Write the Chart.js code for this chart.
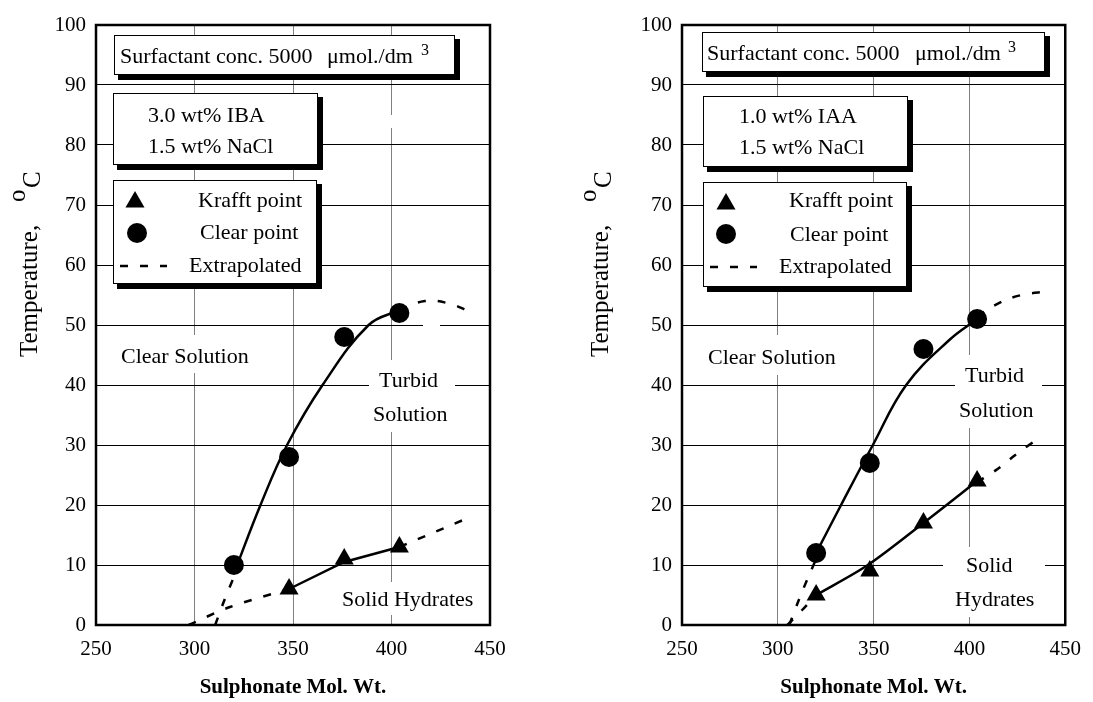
<!DOCTYPE html>
<html>
<head>
<meta charset="utf-8">
<script src="https://cdn.jsdelivr.net/npm/chart.js@4/dist/chart.umd.min.js"></script>
<style>
html,body{margin:0;padding:0;background:#fff;}
#wrap{position:relative;width:1093px;height:702px;background:#fff;}
canvas{position:absolute;top:0;}
</style>
</head>
<body>
<div id="wrap">
<canvas id="c1" width="546" height="702" style="left:0px"></canvas>
<canvas id="c2" width="547" height="702" style="left:546px"></canvas>
</div>
<script>
// ---------- shared axis data ----------
const xTickValues = [250, 300, 350, 400, 450];
const yTickValues = [0, 10, 20, 30, 40, 50, 60, 70, 80, 90, 100];
const xAxisTitle = 'Sulphonate Mol. Wt.';
const yAxisTitle = ['Temperature,', 'o', 'C'];
const concLabel = ['Surfactant conc. 5000', 'μmol./dm', '3'];
const legendLabels = ['Krafft point', 'Clear point', 'Extrapolated'];
const regionLabelsA = ['Clear Solution', 'Turbid', 'Solution', 'Solid Hydrates'];
const regionLabelsB = ['Clear Solution', 'Turbid', 'Solution', 'Solid', 'Hydrates'];

// ---------- Panel A: 3.0 wt% IBA ----------
const conditionsA = ['3.0 wt% IBA', '1.5 wt% NaCl'];
const ibaKrafftMW = [348, 376, 404];
const ibaKrafftT  = [6, 11, 13];
const ibaClearMW  = [320, 348, 376, 404];
const ibaClearT   = [10, 28, 48, 52];
const ibaClearCurveMW = [320.5, 333.5, 347, 365, 388.4, 404];
const ibaClearCurveT  = [9, 20, 30, 40, 50, 52.5];
const ibaKrafftCurveMW = [348, 376, 404];
const ibaKrafftCurveT  = [6, 10.5, 13];
const ibaClearExtLowMW = [310.5, 315, 320];
const ibaClearExtLowT  = [0, 4, 8];
const ibaClearExtHighMW = [404, 417, 429, 440];
const ibaClearExtHighT  = [52.5, 54, 53.6, 52.2];
const ibaKrafftExtLowMW = [297, 318, 348];
const ibaKrafftExtLowT  = [0, 3, 6];
const ibaKrafftExtHighMW = [404, 440];
const ibaKrafftExtHighT  = [13, 18];

// ---------- Panel B: 1.0 wt% IAA ----------
const conditionsB = ['1.0 wt% IAA', '1.5 wt% NaCl'];
const iaaKrafftMW = [320, 348, 376, 404];
const iaaKrafftT  = [5, 9, 17, 24];
const iaaClearMW  = [320, 348, 376, 404];
const iaaClearT   = [12, 27, 46, 51];
const iaaClearCurveMW = [320, 333, 349.6, 367, 389.5, 404];
const iaaClearCurveT  = [12, 20, 30, 40, 47.5, 51];
const iaaKrafftCurveMW = [320, 347, 376, 404];
const iaaKrafftCurveT  = [5, 10, 17, 24];
const iaaClearExtLowMW = [306, 311, 315.5, 320];
const iaaClearExtLowT  = [0, 4.2, 7.7, 11];
const iaaClearExtHighMW = [404, 416.4, 427.2, 441];
const iaaClearExtHighT  = [51.5, 53.8, 55, 55.6];
const iaaKrafftExtLowMW = [305, 312.7, 320];
const iaaKrafftExtLowT  = [0, 2.5, 5];
const iaaKrafftExtHighMW = [404, 414.7, 423.4, 435.5];
const iaaKrafftExtHighT  = [23.8, 26, 28.2, 31];

// ---------- layout (pixels, canvas-local) ----------
const FONT = '"Liberation Serif", "Times New Roman", serif';
const layoutA = {
  canvas: 'c1', chartLeft: 96, padRight: 56,
  yTitle: {x: 37, y: 357},
  boxes: [[114,35,454,74],[113,93,317,164],[113,180,316,283]],
  masks: [[115,335,255,373],[369,360,455,432],[340,582,476,615],[423,318,440,331],[386,115,397,128]],
  conc: [[120,63],[327,63],[421,55]],
  cond: [[148,122],[148,153]],
  legend: {tri:[135,199], circ:[137,233], dash:[120,167,266], labels:[[198,207],[200,239],[189,272]]},
  regions: [[121,363],[379,387],[373,421],[342,606]]
};
const layoutB = {
  canvas: 'c2', chartLeft: 136, padRight: 17,
  yTitle: {x: 62, y: 357},
  boxes: [[156,32,498,71],[157,96,361,166],[157,182,360,286]],
  masks: [[156,335,300,375],[409,355,496,428],[397,547,499,617]],
  conc: [[161,60],[369,60],[462,52]],
  cond: [[193,123],[193,154]],
  legend: {tri:[180,201], circ:[180,234], dash:[164,211,267], labels:[[243,207],[244,241],[233,273]]},
  regions: [[162,364],[419,382],[413,417],[420,572],[409,606]]
};

function pts(xs, ys) { return xs.map((x, i) => ({x: x, y: ys[i]})); }
function lineDs(xs, ys, dashed, tension) {
  return {
    data: pts(xs, ys), showLine: true, borderColor: '#000', borderWidth: 2.5,
    borderDash: dashed ? [8, 12] : [], pointRadius: 0, pointHoverRadius: 0, fill: false,
    tension: tension
  };
}
function markDs(xs, ys, style, r) {
  return {
    data: pts(xs, ys), showLine: false, pointStyle: style, pointRadius: r, pointHoverRadius: r,
    pointBackgroundColor: '#000', pointBorderColor: '#000', pointBorderWidth: 0, borderColor: '#000'
  };
}

function drawTri(ctx, x, y, r) {
  ctx.beginPath();
  for (let k = 0; k < 3; k++) {
    const a = k * 2 * Math.PI / 3;
    const px = x + Math.sin(a) * r, py = y - Math.cos(a) * r;
    if (k === 0) ctx.moveTo(px, py); else ctx.lineTo(px, py);
  }
  ctx.closePath(); ctx.fill();
}

function annotPlugin(L, conditions, regions) {
  return {
    id: 'annot',
    beforeDatasetsDraw(chart) {
      const ctx = chart.ctx;
      ctx.save();
      ctx.fillStyle = '#fff';
      L.masks.forEach(m => ctx.fillRect(m[0], m[1], m[2] - m[0], m[3] - m[1]));
      L.boxes.forEach(b => {
        ctx.fillStyle = '#000';
        ctx.fillRect(b[0] + 4, b[1] + 4, b[2] - b[0] + 2, b[3] - b[1] + 2);
        ctx.fillStyle = '#fff';
        ctx.fillRect(b[0], b[1], b[2] - b[0], b[3] - b[1]);
        ctx.strokeStyle = '#000'; ctx.lineWidth = 1;
        ctx.strokeRect(b[0] + 0.5, b[1] + 0.5, b[2] - b[0], b[3] - b[1]);
      });
      ctx.fillStyle = '#000';
      ctx.textAlign = 'left'; ctx.textBaseline = 'alphabetic';
      ctx.font = '22px ' + FONT;
      ctx.fillText(concLabel[0], L.conc[0][0], L.conc[0][1]);
      ctx.fillText(concLabel[1], L.conc[1][0], L.conc[1][1]);
      ctx.font = '16px ' + FONT;
      ctx.fillText(concLabel[2], L.conc[2][0], L.conc[2][1]);
      ctx.font = '22px ' + FONT;
      conditions.forEach((t, i) => ctx.fillText(t, L.cond[i][0], L.cond[i][1]));
      // legend
      drawTri(ctx, L.legend.tri[0], L.legend.tri[1] + 3, 11);
      ctx.beginPath(); ctx.arc(L.legend.circ[0], L.legend.circ[1], 10, 0, 2 * Math.PI); ctx.fill();
      ctx.save();
      ctx.strokeStyle = '#000'; ctx.lineWidth = 2.5; ctx.setLineDash([8, 12]);
      ctx.beginPath(); ctx.moveTo(L.legend.dash[0], L.legend.dash[2]); ctx.lineTo(L.legend.dash[1], L.legend.dash[2]); ctx.stroke();
      ctx.restore();
      legendLabels.forEach((t, i) => ctx.fillText(t, L.legend.labels[i][0], L.legend.labels[i][1]));
      regions.forEach((t, i) => ctx.fillText(t, L.regions[i][0], L.regions[i][1]));
      ctx.restore();
    },
    afterDraw(chart) {
      const ctx = chart.ctx, a = chart.chartArea;
      ctx.save();
      ctx.strokeStyle = '#000'; ctx.lineWidth = 2.5;
      ctx.strokeRect(a.left, a.top, a.right - a.left, a.bottom - a.top);
      // y axis title with superscript
      ctx.translate(L.yTitle.x, L.yTitle.y);
      ctx.rotate(-Math.PI / 2);
      ctx.fillStyle = '#000';
      ctx.textAlign = 'left'; ctx.textBaseline = 'alphabetic';
      ctx.font = '25px ' + FONT;
      ctx.fillText(yAxisTitle[0], 0, 0);
      ctx.fillText(yAxisTitle[1], 155, -12);
      ctx.fillText(yAxisTitle[2], 169, 3);
      ctx.restore();
    }
  };
}

function makeChart(L, datasets, conditions, regions) {
  return new Chart(document.getElementById(L.canvas), {
    type: 'line',
    data: {datasets: datasets},
    options: {
      responsive: false, animation: false, events: [],
      layout: {padding: {left: 0, right: L.padRight, top: 25, bottom: 0}},
      plugins: {legend: {display: false}, tooltip: {enabled: false}},
      scales: {
        x: {
          type: 'linear', min: xTickValues[0], max: xTickValues[xTickValues.length - 1],
          afterBuildTicks: s => { s.ticks = xTickValues.map(v => ({value: v})); },
          afterFit: s => { s.height = 77; },
          grid: {color: '#808080', lineWidth: 1, drawTicks: false},
          border: {display: false},
          ticks: {font: {family: FONT, size: 21}, color: '#000', padding: 12, maxRotation: 0, autoSkip: false},
          title: {display: true, text: xAxisTitle, color: '#000',
                  font: {family: FONT, size: 21, weight: 'bold'}, padding: {top: 0, bottom: 2}}
        },
        y: {
          type: 'linear', min: yTickValues[0], max: yTickValues[yTickValues.length - 1],
          afterBuildTicks: s => { s.ticks = yTickValues.map(v => ({value: v})); },
          afterFit: s => { s.width = L.chartLeft; },
          grid: {color: '#000', lineWidth: 1, drawTicks: false},
          border: {display: false},
          ticks: {font: {family: FONT, size: 21}, color: '#000', padding: 10, autoSkip: false}
        }
      }
    },
    plugins: [annotPlugin(L, conditions, regions)]
  });
}

makeChart(layoutA, [
  markDs(ibaClearMW, ibaClearT, 'circle', 10),
  markDs(ibaKrafftMW, ibaKrafftT, 'triangle', 11),
  lineDs(ibaClearCurveMW, ibaClearCurveT, false, 0.4),
  lineDs(ibaKrafftCurveMW, ibaKrafftCurveT, false, 0),
  lineDs(ibaClearExtLowMW, ibaClearExtLowT, true, 0.3),
  lineDs(ibaClearExtHighMW, ibaClearExtHighT, true, 0.4),
  lineDs(ibaKrafftExtLowMW, ibaKrafftExtLowT, true, 0.3),
  lineDs(ibaKrafftExtHighMW, ibaKrafftExtHighT, true, 0)
], conditionsA, regionLabelsA);

makeChart(layoutB, [
  markDs(iaaClearMW, iaaClearT, 'circle', 10),
  markDs(iaaKrafftMW, iaaKrafftT, 'triangle', 11),
  lineDs(iaaClearCurveMW, iaaClearCurveT, false, 0.4),
  lineDs(iaaKrafftCurveMW, iaaKrafftCurveT, false, 0.3),
  lineDs(iaaClearExtLowMW, iaaClearExtLowT, true, 0.3),
  lineDs(iaaClearExtHighMW, iaaClearExtHighT, true, 0.4),
  lineDs(iaaKrafftExtLowMW, iaaKrafftExtLowT, true, 0.3),
  lineDs(iaaKrafftExtHighMW, iaaKrafftExtHighT, true, 0.3)
], conditionsB, regionLabelsB);
</script>
</body>
</html>
